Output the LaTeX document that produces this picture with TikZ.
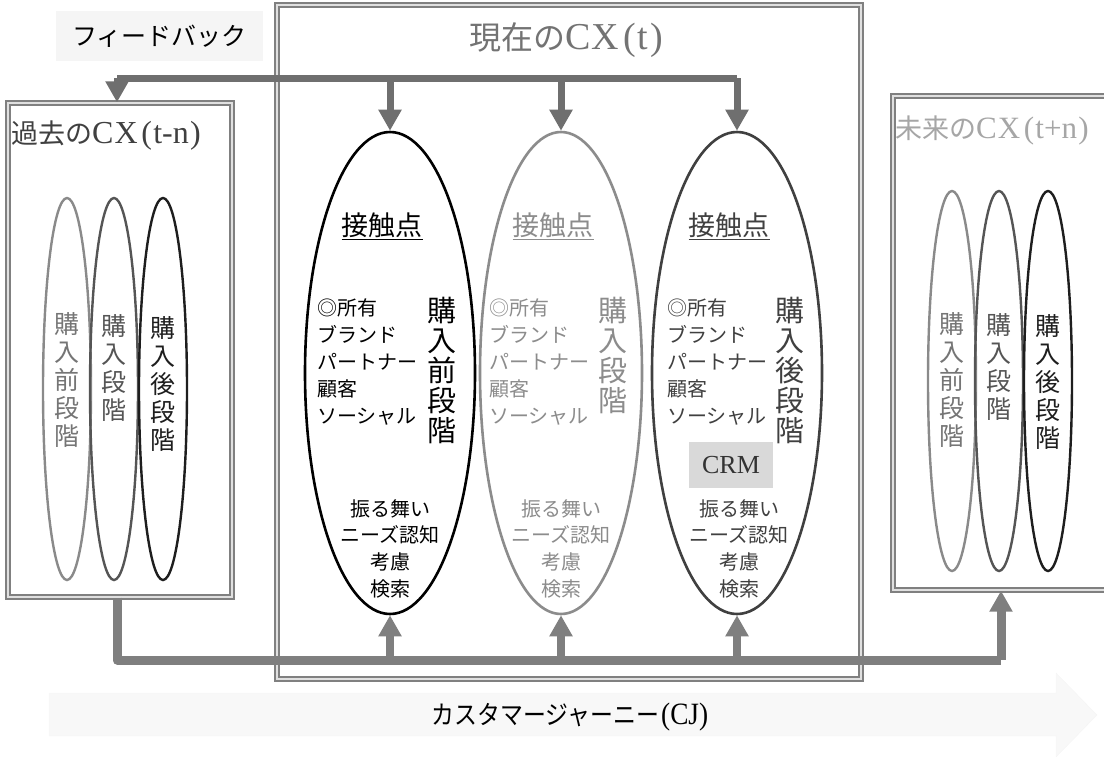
\documentclass[tikz,border=0pt]{standalone}
\usepackage{fontspec}
\usepackage{graphicx}
\usetikzlibrary{shapes.geometric,arrows.meta}
\newfontfamily\jp{Noto Sans CJK JP}
\newfontfamily\lt{Liberation Serif}
\newcommand\fsz[2]{\fontsize{#1}{#2}\selectfont}
\newcommand\cxlabel[2]{{\lt\fsz{#2}{#2}C\kern0.03em X\kern0.12em(\kern0.04em #1\kern0.04em)}}
\definecolor{topgray}{HTML}{6F6F6F}
\definecolor{botgray}{HTML}{7F7F7F}
\definecolor{cjfill}{HTML}{F8F8F8}
\definecolor{crmfill}{HTML}{D9D9D9}
\definecolor{gA}{HTML}{8A8A8A}
\definecolor{gB}{HTML}{555555}
\definecolor{gC}{HTML}{1E1E1E}
\definecolor{eTwo}{HTML}{8C8C8C}
\definecolor{eThree}{HTML}{404040}
\begin{document}
\begin{tikzpicture}[x=1pt,y=-1pt,
  frame/.style={draw=black!50, line width=1.4pt, double=black!12, double distance=2.5pt, fill=white, inner sep=0pt},
  ell/.style={ellipse, inner sep=0pt, line width=2.6pt},
  sell/.style={ellipse, inner sep=0pt, line width=2.4pt, minimum width=48pt, minimum height=382pt},
  vtxt/.style={anchor=north, align=center, inner sep=0pt, font=\jp\fsz{29}{30}},
  svtxt/.style={anchor=north, align=center, inner sep=0pt, font=\jp\fsz{25}{28}},
  ltxt/.style={anchor=north west, align=left, inner sep=0pt, font=\jp\fsz{20}{27}},
  btxt/.style={anchor=north, align=center, inner sep=0pt, font=\jp\fsz{20}{26.7}},
  ttxt/.style={inner sep=0pt, font=\jp\fsz{27}{30}},
  conn/.style={draw=topgray, line width=7pt, line join=round},
  connb/.style={draw=botgray, line width=9pt, line join=round},
  tip/.style={-{Triangle[width=22pt,length=21pt]}}
]
\clip (0,0) rectangle (1104,756);
\useasboundingbox (0,0) rectangle (1104,756);

% Customer journey arrow
\fill[cjfill, draw=black!4] (49,693) -- (1056,693) -- (1056,673) -- (1097,715) -- (1056,757) -- (1056,736) -- (49,736) -- cycle;
\node[inner sep=0pt, font=\jp\fsz{26}{28}] (cj) at (570,717) {\scalebox{0.88}[1]{カスタマージャーニー{\lt\fsz{31}{31}\kern0.08em(CJ)}}};

% Feedback label
\node[fill=black!4, minimum width=207pt, minimum height=50pt, inner sep=0pt, font=\jp\fsz{25}{28}] (fb) at (159.5,36) {フィードバック};

% Frames
\node[frame, minimum width=224pt, minimum height=494pt] (past) at (120,350) {};
\node[frame, minimum width=584pt, minimum height=674pt] (cur) at (569,342) {};
\node[frame, minimum width=240pt, minimum height=494pt] (fut) at (1013,343) {};

% Titles
\node[ttxt, text=black!75, anchor=west] (pastT) at (11,136) {過去の\cxlabel{t-n}{32}};
\node[ttxt, text=black!55, font=\jp\fsz{32}{35}] (curT) at (566,40) {現在の\cxlabel{t}{38}};
\node[ttxt, text=black!35, anchor=west] (futT) at (895,130) {未来の\cxlabel{t+n}{31}};

% Past ellipses
\node[sell, draw=gA] (p1) at (67,389) {};
\node[sell, draw=gB] (p2) at (114,389) {};
\node[sell, draw=gC] (p3) at (163,389) {};
\node[svtxt, text=gA!85!black] (p1t) at (67,312) {購\\入\\前\\段\\階};
\node[svtxt, text=gB] (p2t) at (114,314) {購\\入\\段\\階};
\node[svtxt, text=gC] (p3t) at (163,316) {購\\入\\後\\段\\階};

% Future ellipses
\node[sell, draw=gA, minimum height=380pt] (f1) at (952,381) {};
\node[sell, draw=gB, minimum height=380pt] (f2) at (999,381) {};
\node[sell, draw=gC, minimum height=380pt] (f3) at (1048,381) {};
\node[svtxt, text=gA!85!black] (f1t) at (952,312) {購\\入\\前\\段\\階};
\node[svtxt, text=gB] (f2t) at (999,313) {購\\入\\段\\階};
\node[svtxt, text=gC] (f3t) at (1048,314) {購\\入\\後\\段\\階};

% Current ellipses
\node[ell, draw=black, minimum width=170pt, minimum height=482pt] (e1) at (390,373) {};
\node[ell, draw=eTwo, minimum width=162pt, minimum height=482pt] (e2) at (561,373) {};
\node[ell, draw=eThree, minimum width=170pt, minimum height=482pt] (e3) at (737,373) {};

% Ellipse 1 texts
\node[inner sep=0pt, font=\jp\fsz{27}{30}] (e1h) at (382,226) {\underline{接触点}};
\node[ltxt] (e1l) at (317,298) {◎所有\\ブランド\\パートナー\\顧客\\ソーシャル};
\node[vtxt] (e1v) at (442,297) {購\\入\\前\\段\\階};
\node[btxt] (e1b) at (390,499) {振る舞い\\ニーズ認知\\考慮\\検索};

% Ellipse 2 texts
\node[inner sep=0pt, font=\jp\fsz{27}{30}, text=eTwo] (e2h) at (553,226) {\underline{接触点}};
\node[ltxt, text=eTwo] (e2l) at (489,298) {◎所有\\ブランド\\パートナー\\顧客\\ソーシャル};
\node[vtxt, text=eTwo] (e2v) at (613,297) {購\\入\\段\\階};
\node[btxt, text=eTwo] (e2b) at (561,499) {振る舞い\\ニーズ認知\\考慮\\検索};

% Ellipse 3 texts
\node[inner sep=0pt, font=\jp\fsz{27}{30}, text=eThree] (e3h) at (729,226) {\underline{接触点}};
\node[ltxt, text=eThree] (e3l) at (667,298) {◎所有\\ブランド\\パートナー\\顧客\\ソーシャル};
\node[vtxt, text=eThree] (e3v) at (790,297) {購\\入\\後\\段\\階};
\node[fill=crmfill, minimum width=84pt, minimum height=46pt, inner sep=0pt, text=black!80, font=\lt\fsz{26}{28}] (crm) at (731,465) {CRM};
\node[btxt, text=eThree] (e3b) at (739,499) {振る舞い\\ニーズ認知\\考慮\\検索};

% Feedback connectors (top)
\coordinate (tR) at (737,78);
\coordinate (tL) at (117,78);
\draw[conn] (tR) -- (tL);
\draw[conn, tip] (tL) -- (tL |- past.north);
\draw[conn, tip] (e1.north |- tR) -- (e1.north);
\draw[conn, tip] (e2.north |- tR) -- (e2.north);
\draw[conn, tip] (tR) -- (e3.north);

% Journey connectors (bottom)
\coordinate (bL) at (117,660);
\coordinate (bR) at (1001,660);
\draw[connb] (tL |- past.south) -- (bL) -- (bR);
\draw[connb, tip] (bR) -- (bR |- fut.south);
\draw[connb, line width=8pt, tip] (e1.south |- bL) -- (e1.south);
\draw[connb, line width=8pt, tip] (e2.south |- bL) -- (e2.south);
\draw[connb, line width=8pt, tip] (e3.south |- bL) -- (e3.south);
\end{tikzpicture}
\end{document}
